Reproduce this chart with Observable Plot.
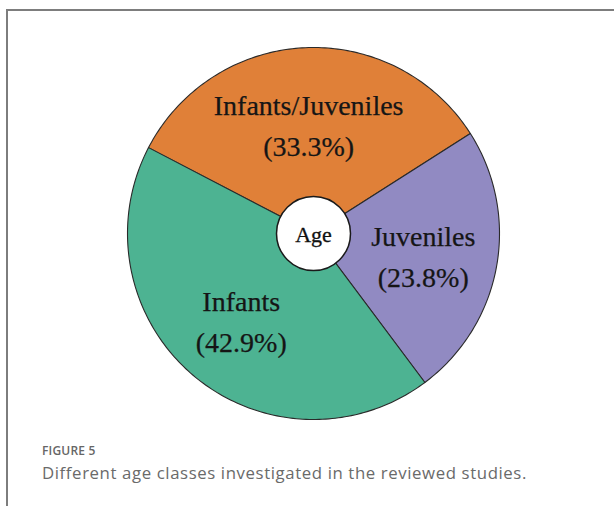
<!DOCTYPE html>
<html>
<head>
<meta charset="utf-8">
<script src="https://cdn.jsdelivr.net/npm/d3@7"></script>
<script src="https://cdn.jsdelivr.net/npm/@observablehq/plot@0.6"></script>
<style>
  body { margin: 0; background: #fff; }
  #frame { position: absolute; left: 6px; top: 9px; width: 620px; height: 510px;
           border-top: 2px solid #7d7d7d; border-left: 2px solid #7d7d7d; }
  #chart { position: absolute; left: 0; top: 0; }
  #cap { position: absolute; left: 42px; top: 441px; font-family: "Open Sans", sans-serif; color: #666; }
  #cap .fig { font-size: 12px; font-weight: 600; letter-spacing: 0.2px; line-height: 20px; }
  #cap .txt { font-size: 16.8px; line-height: 23px; letter-spacing: 0.6px; color: #6a6a6a; }
</style>
</head>
<body>
<div id="frame"></div>
<div id="chart"></div>
<div id="cap">
  <div class="fig">FIGURE 5</div>
  <div class="txt">Different age classes investigated in the reviewed studies.</div>
</div>
<script>
// ---- data ----
const categories = ["Infants/Juveniles", "Juveniles", "Infants"];
const counts = [7, 5, 9];
const percentLabels = ["(33.3%)", "(23.8%)", "(42.9%)"];
const colors = ["#E08038", "#918AC2", "#4DB392"];
const centerLabel = "Age";

// ---- layout ----
const W = 614, H = 440;
const cx = 313, cy = 233, R = 186;
const startDeg = -62.5;
const labelRadius = 0.6;

const total = d3.sum(counts);
const slicePts = [];
const labels = [];
let acc = 0;
categories.forEach((cat, i) => {
  const a0 = (startDeg * Math.PI / 180) + acc / total * 2 * Math.PI;
  acc += counts[i];
  const a1 = (startDeg * Math.PI / 180) + acc / total * 2 * Math.PI;
  const n = Math.max(8, Math.round((a1 - a0) / (Math.PI / 180)));
  slicePts.push({cat, x: 0, y: 0});
  for (let k = 0; k <= n; k++) {
    const a = a0 + (a1 - a0) * k / n;
    slicePts.push({cat, x: Math.sin(a), y: Math.cos(a)});
  }
  slicePts.push({cat, x: 0, y: 0});
  const am = (a0 + a1) / 2;
  labels.push({cat, x: labelRadius * Math.sin(am), y: labelRadius * Math.cos(am), text: cat + "\n" + percentLabels[i]});
});

const chart = Plot.plot({
  width: W,
  height: H,
  margin: 0,
  x: {domain: [-1, 1], range: [cx - R, cx + R], axis: null},
  y: {domain: [-1, 1], range: [cy + R, cy - R], axis: null},
  color: {domain: categories, range: colors},
  style: {background: "transparent"},
  marks: [
    Plot.line(slicePts, {x: "x", y: "y", z: "cat", fill: "cat", stroke: "#2a2a2a", strokeWidth: 1.1, strokeLinejoin: "round"}),
    Plot.dot([{x: 0, y: 0}], {x: "x", y: "y", r: 37, fill: "white", stroke: "#1a1a1a", strokeWidth: 1.5}),
    Plot.text([{x: 0, y: 0, text: centerLabel}], {x: "x", y: "y", text: "text", fontSize: 22, fontFamily: "Liberation Serif", fill: "#111", stroke: "#111", strokeWidth: 0.3, dy: 1}),
    Plot.text(labels, {x: "x", y: "y", text: "text", fontSize: 28, lineHeight: 1.46, fontFamily: "Liberation Serif", fill: "#151515", stroke: "#151515", strokeWidth: 0.25})
  ]
});
document.getElementById("chart").appendChild(chart);
</script>
</body>
</html>
